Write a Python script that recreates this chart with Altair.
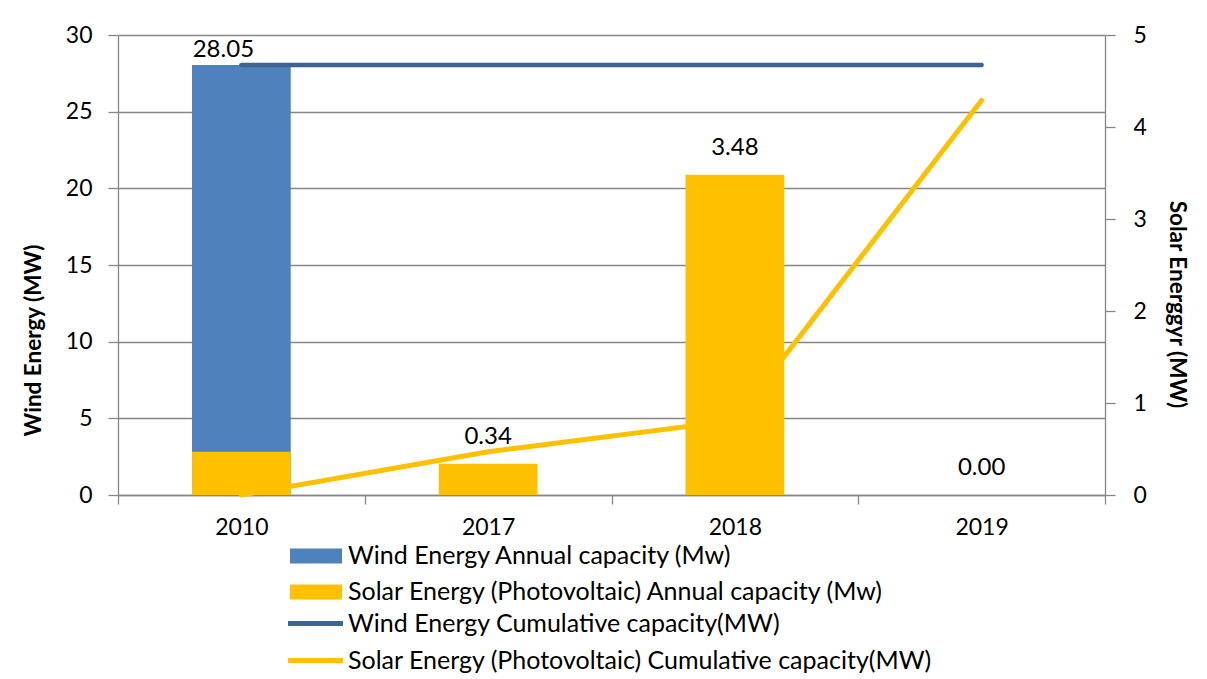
import altair as alt
import pandas as pd

# ---------------- data ----------------
years = ["2010", "2017", "2018", "2019"]

wind_bar_years = ["2010"]
wind_bar_values = [28.05]

solar_bar_years = ["2010", "2017", "2018", "2019"]
solar_bar_values = [0.47, 0.34, 3.48, 0.00]

wind_cum_years = ["2010", "2017", "2018", "2019"]
wind_cum_values = [28.05, 28.05, 28.05, 28.05]

solar_cum_years = ["2010", "2017", "2018", "2019"]
solar_cum_values = [0.0, 0.47, 0.81, 4.29]

wind_label_years = ["2010"]
wind_label_values = [28.05]

solar_label_years = ["2017", "2018", "2019"]
solar_label_values = [0.34, 3.48, 0.00]

S_WA = "Wind Energy Annual capacity (Mw)"
S_SA = "Solar Energy (Photovoltaic) Annual capacity (Mw)"
S_WC = "Wind Energy Cumulative capacity(MW)"
S_SC = "Solar Energy (Photovoltaic) Cumulative capacity(MW)"

left_ticks = [0, 5, 10, 15, 20, 25, 30]
right_ticks = [0, 1, 2, 3, 4, 5]

# ---------------- style ----------------
FONT = "Lato"
GRID = "#878787"
C_WIND = "#4F81BD"
C_SOLAR = "#FFC000"
C_WIND_LINE = "#3C6595"
AXIS_FS = 23
TEXT_FS = 24
LEGEND_FS = 25
TITLE_FS = 22.5

df_wind_bar = pd.DataFrame({"year": wind_bar_years, "value": wind_bar_values, "series": S_WA})
df_solar_bar = pd.DataFrame({"year": solar_bar_years, "value": solar_bar_values, "series": S_SA})
df_wind_cum = pd.DataFrame({"year": wind_cum_years, "value": wind_cum_values, "series": S_WC})
df_solar_cum = pd.DataFrame({"year": solar_cum_years, "value": solar_cum_values, "series": S_SC})
df_wind_lab = pd.DataFrame({"year": wind_label_years, "value": wind_label_values})
df_solar_lab = pd.DataFrame({"year": solar_label_years, "value": solar_label_values})


def x_enc():
    return alt.X(
        "year:N",
        sort=years,
        scale=alt.Scale(domain=years, paddingInner=0, paddingOuter=0),
        axis=alt.Axis(
            title=None, labelAngle=0, tickBand="extent", tickSize=9,
            labelPadding=12, domainColor=GRID, tickColor=GRID,
            domainWidth=1.3, tickWidth=1.3, grid=False,
        ),
    )


def y_left():
    return alt.Y(
        "value:Q",
        scale=alt.Scale(domain=[0, 30], nice=False, zero=True),
        axis=alt.Axis(
            title="Wind Energy (MW)", values=left_ticks, grid=True,
            gridColor=GRID, gridWidth=1.3, tickSize=10, tickColor=GRID,
            tickWidth=1.3, domainColor=GRID, domainWidth=1.3, labelPadding=16,
            titleFontWeight="bold", titleFontSize=TITLE_FS, titleAngle=-90,
            titleX=-85, titleY=305, titleAlign="center", titleBaseline="middle",
            orient="left",
        ),
    )


def y_right():
    return alt.Y(
        "value:Q",
        scale=alt.Scale(domain=[0, 5], nice=False, zero=True),
        axis=alt.Axis(
            title="Solar Energgyr (MW)", values=right_ticks, grid=False,
            tickSize=10, tickColor=GRID, tickWidth=1.3, domainColor=GRID,
            domainWidth=1.3, labelPadding=18,
            titleFontWeight="bold", titleFontSize=TITLE_FS, titleAngle=90,
            titleX=71, titleY=269, titleAlign="center", titleBaseline="middle",
            orient="right",
        ),
    )


bar_symbol = "M-2,-0.58L2,-0.58L2,0.58L-2,0.58Z"
line_symbol = "M-2,0L2,0"

color_enc = alt.Color(
    "series:N",
    scale=alt.Scale(domain=[S_WA, S_SA], range=[C_WIND, C_SOLAR]),
    legend=alt.Legend(
        title=None, orient="none", legendX=185, legendY=508,
        symbolType=bar_symbol, symbolSize=676, symbolStrokeWidth=0,
        labelOffset=19, rowPadding=10, direction="vertical",
    ),
)

stroke_enc = alt.Stroke(
    "series:N",
    scale=alt.Scale(domain=[S_WC, S_SC], range=[C_WIND_LINE, C_SOLAR]),
    legend=alt.Legend(
        title=None, orient="none", legendX=181, legendY=572,
        symbolType=line_symbol, symbolSize=756, symbolStrokeWidth=5,
        symbolFillColor="transparent",
        labelOffset=16, rowPadding=7, direction="vertical",
    ),
)

wind_bar = alt.Chart(df_wind_bar).mark_bar(width=alt.RelativeBandSize(0.4)).encode(
    x=x_enc(), y=y_left(), color=color_enc
)
wind_line = alt.Chart(df_wind_cum).mark_line(strokeWidth=4.5, strokeCap="round").encode(
    x=x_enc(), y=y_left(), stroke=stroke_enc
)
wind_text = alt.Chart(df_wind_lab).mark_text(
    baseline="middle", dy=-15, dx=-18, fontSize=TEXT_FS, font=FONT, color="black"
).encode(x=x_enc(), y=y_left(), text=alt.Text("value:Q", format=".2f"))

solar_line = alt.Chart(df_solar_cum).mark_line(strokeWidth=5, strokeCap="round").encode(
    x=x_enc(), y=y_right(), stroke=stroke_enc
)
solar_bar = alt.Chart(df_solar_bar).mark_bar(width=alt.RelativeBandSize(0.4)).encode(
    x=x_enc(), y=y_right(), color=color_enc
)
solar_text = alt.Chart(df_solar_lab).mark_text(
    baseline="middle", dy=-27, fontSize=TEXT_FS, font=FONT, color="black"
).encode(x=x_enc(), y=y_right(), text=alt.Text("value:Q", format=".2f"))

left = alt.layer(wind_bar, wind_line, wind_text)
right = alt.layer(solar_line, solar_bar, solar_text)

chart = (
    alt.layer(left, right)
    .resolve_scale(y="independent")
    .properties(
        width=987, height=460,
        autosize=alt.AutoSizeParams(type="none"),
        padding={"left": 110, "top": 27, "right": 90, "bottom": 180},
    )
    .configure_axis(labelFont=FONT, titleFont=FONT, labelFontSize=AXIS_FS,
                    labelColor="black", titleColor="black")
    .configure_legend(labelFont=FONT, labelFontSize=LEGEND_FS, labelColor="black",
                      labelLimit=0)
    .configure_view(stroke=None)
)

chart.save("out.html", embed_options={"renderer": "svg", "actions": False})
